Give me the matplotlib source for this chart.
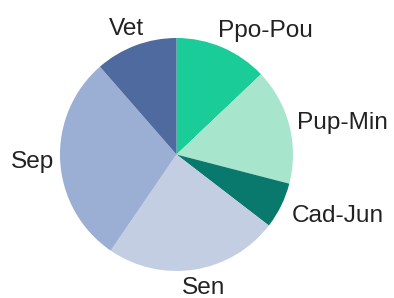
import numpy as np
import matplotlib
matplotlib.use("Agg")
import matplotlib.pyplot as plt

labels = ["Ppo-Pou", "Pup-Min", "Cad-Jun", "Sen", "Sep", "Vet"]
values = [12.9, 16.1, 6.4, 24.1, 29.0, 11.4]
colors = ["#19CC98", "#A8E5CD", "#08796C", "#C4CEE3", "#9BAED3", "#4F6A9E"]
# label nudges in pixels (x right, y up)
nudges = [(-7, 0), (2, 1), (5, -8), (8, -2), (0, 0), (10, 0)]

fig = plt.figure(figsize=(3.94, 2.98), dpi=100)
cx, cy, R = 176.5 / 394, 1 - 154.5 / 298, 116.5
ax = fig.add_axes([cx - R / 394, cy - R / 298, 2 * R / 394, 2 * R / 298])
wedges, _ = ax.pie(values, colors=colors, startangle=90, counterclock=False,
                   radius=1.0, wedgeprops=dict(linewidth=0))
ax.set_xlim(-1, 1)
ax.set_ylim(-1, 1)
ax.axis("off")

for w, lab, (dx, dy) in zip(wedges, labels, nudges):
    ang = np.deg2rad((w.theta1 + w.theta2) / 2)
    c, s = np.cos(ang), np.sin(ang)
    r = 1.05
    x, y = r * c, r * s
    ha = "left" if c > 0.3 else ("right" if c < -0.3 else "center")
    va = "bottom" if s > 0.6 else ("top" if s < -0.6 else "center")
    ax.annotate(lab, (x, y), xytext=(dx, dy), textcoords="offset pixels",
                ha=ha, va=va, fontsize=17.6, family="Liberation Sans",
                color="#222222", annotation_clip=False)

fig.savefig("out.png", dpi=100)
